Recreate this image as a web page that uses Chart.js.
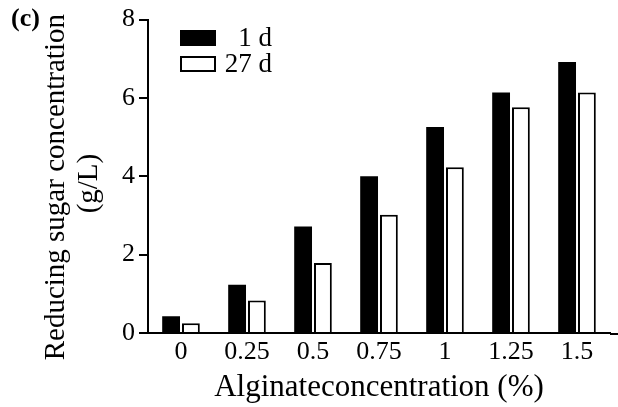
<!DOCTYPE html>
<html>
<head>
<meta charset="utf-8">
<script src="https://cdn.jsdelivr.net/npm/chart.js@4"></script>
<style>
  html, body { margin: 0; padding: 0; background: #fff; }
  #wrap { position: relative; width: 618px; height: 407px; }
  #panel { position: absolute; left: 11px; top: 3px; font-family: "Liberation Serif", serif; font-weight: bold; font-size: 26px; line-height: 30px; color: #000; }
</style>
</head>
<body>
<div id="wrap">
  <canvas id="c" width="618" height="407"></canvas>
  <div id="panel">(c)</div>
</div>
<script>
const categories = ["0", "0.25", "0.5", "0.75", "1", "1.25", "1.5"];
const day1 = [0.43, 1.23, 2.72, 4.0, 5.26, 6.14, 6.92];
const day27 = [0.25, 0.83, 1.79, 3.02, 4.23, 5.76, 6.14];
const seriesLabels = ["1 d", "27 d"];
const yTicks = [0, 2, 4, 6, 8];

const serif = "'Liberation Serif', 'Times New Roman', serif";

const legendPlugin = {
  id: 'customLegend',
  afterDraw(chart) {
    const ctx = chart.ctx;
    const area = chart.chartArea;
    ctx.save();
    // extend x axis line to the right edge
    ctx.strokeStyle = '#000';
    ctx.lineWidth = 2;
    ctx.beginPath();
    ctx.moveTo(area.right, area.bottom + 1);
    ctx.lineTo(chart.width, area.bottom + 1);
    ctx.stroke();
    ctx.font = "27px " + serif;
    ctx.textBaseline = 'middle';
    chart.data.datasets.forEach((ds, i) => {
      const y = 38 + i * 26;
      const bx = 181, bw = 34, bh = 14;
      ctx.fillStyle = ds.backgroundColor;
      ctx.fillRect(bx, y - bh / 2, bw, bh);
      ctx.lineWidth = 2;
      ctx.strokeStyle = '#000';
      ctx.strokeRect(bx, y - bh / 2, bw, bh);
      ctx.fillStyle = '#000';
      ctx.textAlign = 'right';
      ctx.fillText(ds.label, 272, y + 1);
    });
    ctx.restore();
  }
};

new Chart(document.getElementById('c'), {
  type: 'bar',
  data: {
    labels: categories,
    datasets: [
      { label: seriesLabels[0], data: day1, backgroundColor: '#000', borderColor: '#000', borderWidth: 0 },
      { label: seriesLabels[1], data: day27, backgroundColor: '#fff', borderColor: '#000', borderWidth: 2 }
    ]
  },
  options: {
    responsive: false,
    animation: false,
    devicePixelRatio: 1,
    layout: { padding: { top: 15, right: 8, left: 40, bottom: 0 } },
    plugins: { legend: { display: false }, tooltip: { enabled: false } },
    datasets: { bar: { categoryPercentage: 0.6, barPercentage: 0.9 } },
    scales: {
      x: {
        grid: { display: false, drawTicks: false },
        border: { color: '#000', width: 2 },
        ticks: { color: '#000', font: { family: serif, size: 26 }, padding: 4 },
        title: { display: true, text: 'Alginateconcentration (%)', color: '#000', font: { family: serif, size: 31 }, padding: { top: 0, bottom: 1 } },
        afterFit(scale) { scale.height = 74; }
      },
      y: {
        min: 0, max: 8,
        afterBuildTicks(scale) { scale.ticks = yTicks.map(v => ({ value: v })); },
        grid: { display: true, drawOnChartArea: false, drawTicks: true, tickLength: 9, color: '#000', lineWidth: 2 },
        border: { color: '#000', width: 2 },
        ticks: { color: '#000', font: { family: serif, size: 26 }, padding: 4 },
        title: { display: true, text: ['Reducing sugar concentration   ', '(g/L)  '], color: '#000', font: { family: serif, size: 29, lineHeight: 1.14 }, padding: 0 },
        afterFit(scale) { scale.width = 108; }
      }
    }
  },
  plugins: [legendPlugin]
});
</script>
</body>
</html>
